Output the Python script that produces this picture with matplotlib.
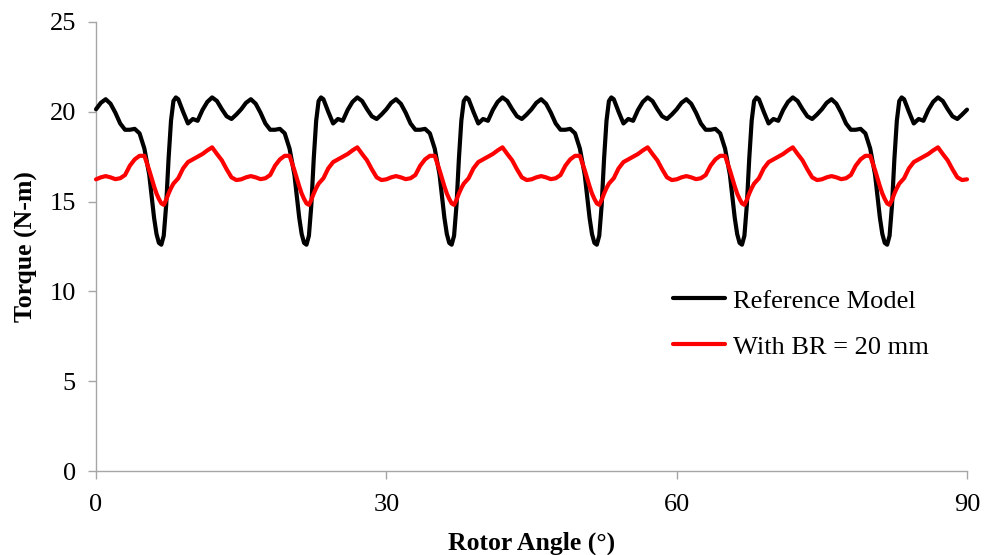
import matplotlib
matplotlib.use("Agg")
import matplotlib.pyplot as plt

plt.rcParams['font.family'] = ['Liberation Serif', 'DejaVu Serif']

angle = [
    0, 0.5, 1, 1.5, 2, 2.5, 3, 3.5, 4, 4.5, 5, 5.5, 6, 6.25, 6.5, 6.75, 7, 7.25, 7.5, 7.75, 8, 8.25, 8.5, 9, 9.5, 10, 10.5, 11, 11.5, 12, 12.5, 13, 13.5, 14, 14.5,
    15, 15.5, 16, 16.5, 17, 17.5, 18, 18.5, 19, 19.5, 20, 20.5, 21, 21.25, 21.5, 21.75, 22, 22.25, 22.5, 22.75, 23, 23.25, 23.5, 24, 24.5, 25, 25.5, 26, 26.5, 27, 27.5, 28, 28.5, 29, 29.5,
    30, 30.5, 31, 31.5, 32, 32.5, 33, 33.5, 34, 34.5, 35, 35.5, 36, 36.25, 36.5, 36.75, 37, 37.25, 37.5, 37.75, 38, 38.25, 38.5, 39, 39.5, 40, 40.5, 41, 41.5, 42, 42.5, 43, 43.5, 44, 44.5,
    45, 45.5, 46, 46.5, 47, 47.5, 48, 48.5, 49, 49.5, 50, 50.5, 51, 51.25, 51.5, 51.75, 52, 52.25, 52.5, 52.75, 53, 53.25, 53.5, 54, 54.5, 55, 55.5, 56, 56.5, 57, 57.5, 58, 58.5, 59, 59.5,
    60, 60.5, 61, 61.5, 62, 62.5, 63, 63.5, 64, 64.5, 65, 65.5, 66, 66.25, 66.5, 66.75, 67, 67.25, 67.5, 67.75, 68, 68.25, 68.5, 69, 69.5, 70, 70.5, 71, 71.5, 72, 72.5, 73, 73.5, 74, 74.5,
    75, 75.5, 76, 76.5, 77, 77.5, 78, 78.5, 79, 79.5, 80, 80.5, 81, 81.25, 81.5, 81.75, 82, 82.25, 82.5, 82.75, 83, 83.25, 83.5, 84, 84.5, 85, 85.5, 86, 86.5, 87, 87.5, 88, 88.5, 89, 89.5,
    90,
]

reference_model = [
    20.14, 20.5, 20.7, 20.45, 19.95, 19.35, 19.0, 19.0, 19.05, 18.8, 17.95, 16.5, 14.1, 13.2, 12.7, 12.6, 13.1, 14.8, 17.4, 19.5, 20.6, 20.8, 20.7, 20.0, 19.35, 19.6, 19.5, 20.1, 20.55, 20.8, 20.6, 20.15, 19.75, 19.6, 19.85,
    20.14, 20.5, 20.7, 20.45, 19.95, 19.35, 19.0, 19.0, 19.05, 18.8, 17.95, 16.5, 14.1, 13.2, 12.7, 12.6, 13.1, 14.8, 17.4, 19.5, 20.6, 20.8, 20.7, 20.0, 19.35, 19.6, 19.5, 20.1, 20.55, 20.8, 20.6, 20.15, 19.75, 19.6, 19.85,
    20.14, 20.5, 20.7, 20.45, 19.95, 19.35, 19.0, 19.0, 19.05, 18.8, 17.95, 16.5, 14.1, 13.2, 12.7, 12.6, 13.1, 14.8, 17.4, 19.5, 20.6, 20.8, 20.7, 20.0, 19.35, 19.6, 19.5, 20.1, 20.55, 20.8, 20.6, 20.15, 19.75, 19.6, 19.85,
    20.14, 20.5, 20.7, 20.45, 19.95, 19.35, 19.0, 19.0, 19.05, 18.8, 17.95, 16.5, 14.1, 13.2, 12.7, 12.6, 13.1, 14.8, 17.4, 19.5, 20.6, 20.8, 20.7, 20.0, 19.35, 19.6, 19.5, 20.1, 20.55, 20.8, 20.6, 20.15, 19.75, 19.6, 19.85,
    20.14, 20.5, 20.7, 20.45, 19.95, 19.35, 19.0, 19.0, 19.05, 18.8, 17.95, 16.5, 14.1, 13.2, 12.7, 12.6, 13.1, 14.8, 17.4, 19.5, 20.6, 20.8, 20.7, 20.0, 19.35, 19.6, 19.5, 20.1, 20.55, 20.8, 20.6, 20.15, 19.75, 19.6, 19.85,
    20.14, 20.5, 20.7, 20.45, 19.95, 19.35, 19.0, 19.0, 19.05, 18.8, 17.95, 16.5, 14.1, 13.2, 12.7, 12.6, 13.1, 14.8, 17.4, 19.5, 20.6, 20.8, 20.7, 20.0, 19.35, 19.6, 19.5, 20.1, 20.55, 20.8, 20.6, 20.15, 19.75, 19.6, 19.85,
    20.12,
]

with_br_20 = [
    16.24, 16.35, 16.42, 16.35, 16.25, 16.3, 16.48, 17.0, 17.35, 17.55, 17.55, 16.75, 15.85, 15.45, 15.15, 14.9, 14.82, 15.1, 15.45, 15.75, 16.0, 16.15, 16.3, 16.85, 17.2, 17.35, 17.5, 17.65, 17.85, 18.02, 17.65, 17.3, 16.8, 16.35, 16.2,
    16.24, 16.35, 16.42, 16.35, 16.25, 16.3, 16.48, 17.0, 17.35, 17.55, 17.55, 16.75, 15.85, 15.45, 15.15, 14.9, 14.82, 15.1, 15.45, 15.75, 16.0, 16.15, 16.3, 16.85, 17.2, 17.35, 17.5, 17.65, 17.85, 18.02, 17.65, 17.3, 16.8, 16.35, 16.2,
    16.24, 16.35, 16.42, 16.35, 16.25, 16.3, 16.48, 17.0, 17.35, 17.55, 17.55, 16.75, 15.85, 15.45, 15.15, 14.9, 14.82, 15.1, 15.45, 15.75, 16.0, 16.15, 16.3, 16.85, 17.2, 17.35, 17.5, 17.65, 17.85, 18.02, 17.65, 17.3, 16.8, 16.35, 16.2,
    16.24, 16.35, 16.42, 16.35, 16.25, 16.3, 16.48, 17.0, 17.35, 17.55, 17.55, 16.75, 15.85, 15.45, 15.15, 14.9, 14.82, 15.1, 15.45, 15.75, 16.0, 16.15, 16.3, 16.85, 17.2, 17.35, 17.5, 17.65, 17.85, 18.02, 17.65, 17.3, 16.8, 16.35, 16.2,
    16.24, 16.35, 16.42, 16.35, 16.25, 16.3, 16.48, 17.0, 17.35, 17.55, 17.55, 16.75, 15.85, 15.45, 15.15, 14.9, 14.82, 15.1, 15.45, 15.75, 16.0, 16.15, 16.3, 16.85, 17.2, 17.35, 17.5, 17.65, 17.85, 18.02, 17.65, 17.3, 16.8, 16.35, 16.2,
    16.24, 16.35, 16.42, 16.35, 16.25, 16.3, 16.48, 17.0, 17.35, 17.55, 17.55, 16.75, 15.85, 15.45, 15.15, 14.9, 14.82, 15.1, 15.45, 15.75, 16.0, 16.15, 16.3, 16.85, 17.2, 17.35, 17.5, 17.65, 17.85, 18.02, 17.65, 17.3, 16.8, 16.35, 16.2,
    16.24,
]

series_labels = ["Reference Model", "With BR = 20 mm"]
x_ticks = [0, 30, 60, 90]
y_ticks = [0, 5, 10, 15, 20, 25]

fig = plt.figure(figsize=(9.84, 5.55), dpi=100)
ax = fig.add_axes([96 / 984, 84 / 555, 871 / 984, 449 / 555])

ax.plot(angle, reference_model, color="black", lw=3.0, label=series_labels[0],
        solid_joinstyle="round", solid_capstyle="round", clip_on=False, zorder=3)
ax.plot(angle, with_br_20, color="#ff0000", lw=3.0, label=series_labels[1],
        solid_joinstyle="round", solid_capstyle="round", clip_on=False, zorder=4)

ax.set_xlim(0, 90)
ax.set_ylim(0, 25)
ax.set_xticks(x_ticks)
ax.set_yticks(y_ticks)

grey = "#a6a6a6"
for s in ["top", "right"]:
    ax.spines[s].set_visible(False)
for s in ["left", "bottom"]:
    ax.spines[s].set_color(grey)
    ax.spines[s].set_linewidth(1.0)
ax.tick_params(axis="both", direction="out", length=5.5, width=1.0, color=grey,
               labelsize=19, labelcolor="black")
ax.tick_params(axis="x", pad=11)
ax.tick_params(axis="y", pad=9)

ax.set_xlabel("Rotor Angle (°)", fontsize=18.5, fontweight="bold", labelpad=11)
ax.set_ylabel("Torque (N-m)", fontsize=18.5, fontweight="bold", labelpad=8)

leg = ax.legend(loc="upper left", bbox_to_anchor=(0.662, 0.405), frameon=False,
                fontsize=19, handlelength=2.0, handletextpad=0.3, labelspacing=0.85,
                borderpad=0, borderaxespad=0)

fig.savefig("out.png", dpi=100)
